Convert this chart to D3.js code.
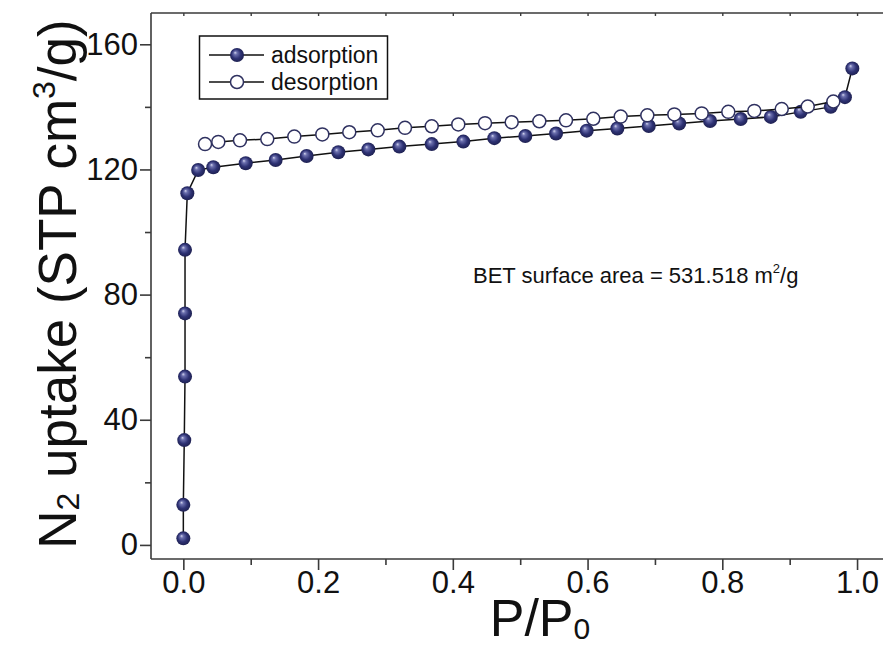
<!DOCTYPE html>
<html>
<head>
<meta charset="utf-8">
<script src="https://cdn.jsdelivr.net/npm/d3@7"></script>
<style>
  html, body { margin: 0; padding: 0; background: #fff; }
  svg { display: block; }
  text { font-family: "Liberation Sans", Arial, sans-serif; fill: #111; }
</style>
</head>
<body>
<svg id="chart" width="883" height="646"></svg>
<script>
// N2 sorption isotherm: relative pressure vs. uptake
const adsorptionP = [0.0, 0.0, 0.0014, 0.0025, 0.0025, 0.0025, 0.0059, 0.022, 0.0445, 0.0926,
  0.137, 0.183, 0.230, 0.2746, 0.3206, 0.3687, 0.4156, 0.4616, 0.5076, 0.5532,
  0.5987, 0.6442, 0.6908, 0.736, 0.7818, 0.8273, 0.872, 0.9164, 0.961, 0.982, 0.993];
const adsorptionV = [2.1, 12.8, 33.5, 53.8, 74.0, 94.3, 112.4, 119.8, 120.7, 122.0,
  123.0, 124.3, 125.5, 126.4, 127.3, 128.1, 128.9, 130.0, 130.7, 131.5,
  132.4, 133.1, 133.9, 134.7, 135.5, 136.1, 136.8, 138.4, 140.0, 143.1, 152.3];

const desorptionP = [0.0322, 0.0519, 0.0841, 0.1246, 0.1647, 0.2063, 0.2463, 0.2885, 0.3290, 0.3687,
  0.4081, 0.4478, 0.4874, 0.5284, 0.568, 0.6085, 0.6492, 0.6887, 0.7288, 0.7694,
  0.8089, 0.8475, 0.8882, 0.9268, 0.9648];
const desorptionV = [128.1, 128.8, 129.3, 129.7, 130.5, 131.2, 131.9, 132.5, 133.3, 133.8,
  134.4, 134.8, 135.1, 135.4, 135.7, 136.2, 136.9, 137.3, 137.6, 137.9,
  138.4, 138.7, 139.3, 140.1, 141.7];

const xMajorTicks = [0.0, 0.2, 0.4, 0.6, 0.8, 1.0];
const xMinorTicks = [0.1, 0.3, 0.5, 0.7, 0.9];
const yMajorTicks = [0, 40, 80, 120, 160];
const yMinorTicks = [20, 60, 100, 140];

const seriesNames = ["adsorption", "desorption"];
const annotation = "BET surface area = 531.518 m";

const svg = d3.select("#chart");
const plotLeft = 151, plotRight = 884, plotTop = 13, plotBottom = 559;

const x = d3.scaleLinear().domain([-0.048, 1.04]).range([plotLeft, plotRight]);
const y = d3.scaleLinear().domain([-4.5, 170]).range([plotBottom, plotTop]);

// Shaded sphere fill for the adsorption markers
const defs = svg.append("defs");
const grad = defs.append("radialGradient")
  .attr("id", "ball").attr("cx", "50%").attr("cy", "50%").attr("r", "55%")
  .attr("fx", "36%").attr("fy", "32%");
grad.append("stop").attr("offset", "0%").attr("stop-color", "#d4d6ee");
grad.append("stop").attr("offset", "22%").attr("stop-color", "#6c70ae");
grad.append("stop").attr("offset", "60%").attr("stop-color", "#2e3274");
grad.append("stop").attr("offset", "100%").attr("stop-color", "#1b1d4a");

const axisColor = "#3a3a3a";

// Frame: bottom, left and top lines
svg.append("line").attr("x1", plotLeft).attr("x2", plotRight).attr("y1", plotBottom).attr("y2", plotBottom)
  .attr("stroke", axisColor).attr("stroke-width", 1.6);
svg.append("line").attr("x1", plotLeft).attr("x2", plotRight).attr("y1", plotTop).attr("y2", plotTop)
  .attr("stroke", axisColor).attr("stroke-width", 1.6);
svg.append("line").attr("x1", plotLeft).attr("x2", plotLeft).attr("y1", plotTop).attr("y2", plotBottom)
  .attr("stroke", axisColor).attr("stroke-width", 1.6);

// Bottom axis
const xAxis = d3.axisBottom(x).tickValues(xMajorTicks).tickFormat(d3.format(".1f"))
  .tickSize(11).tickPadding(1);
const gx = svg.append("g").attr("transform", `translate(0,${plotBottom})`).call(xAxis);
gx.select(".domain").remove();
gx.selectAll(".tick line").attr("stroke", axisColor).attr("stroke-width", 1.6);
gx.selectAll(".tick text").attr("font-size", 31).attr("fill", "#111")
  .attr("font-family", "'Liberation Sans', Arial, sans-serif");

const gxm = svg.append("g").attr("transform", `translate(0,${plotBottom})`)
  .call(d3.axisBottom(x).tickValues(xMinorTicks).tickSize(6).tickFormat(""));
gxm.select(".domain").remove();
gxm.selectAll(".tick line").attr("stroke", axisColor).attr("stroke-width", 1.6);

// Top axis: short ticks only
const gxt = svg.append("g").attr("transform", `translate(0,${plotTop})`)
  .call(d3.axisBottom(x).tickValues(xMajorTicks.concat(xMinorTicks)).tickSize(3).tickFormat(""));
gxt.select(".domain").remove();
gxt.selectAll(".tick line").attr("stroke", axisColor).attr("stroke-width", 1.4);

// Left axis
const yAxis = d3.axisLeft(y).tickValues(yMajorTicks).tickFormat(d3.format("d"))
  .tickSize(11).tickPadding(2);
const gy = svg.append("g").attr("transform", `translate(${plotLeft},0)`).call(yAxis);
gy.select(".domain").remove();
gy.selectAll(".tick line").attr("stroke", axisColor).attr("stroke-width", 1.6);
gy.selectAll(".tick text").attr("font-size", 31).attr("fill", "#111")
  .attr("font-family", "'Liberation Sans', Arial, sans-serif");

const gym = svg.append("g").attr("transform", `translate(${plotLeft},0)`)
  .call(d3.axisLeft(y).tickValues(yMinorTicks).tickSize(6).tickFormat(""));
gym.select(".domain").remove();
gym.selectAll(".tick line").attr("stroke", axisColor).attr("stroke-width", 1.6);

// Axis titles
const xt = svg.append("text").attr("x", 540).attr("y", 636)
  .attr("text-anchor", "middle").attr("font-size", 52);
xt.append("tspan").text("P/P");
xt.append("tspan").attr("font-size", 30).attr("dy", 3).text("0");

const yt = svg.append("text")
  .attr("transform", "translate(76,284) rotate(-90)")
  .attr("text-anchor", "middle").attr("font-size", 53);
yt.append("tspan").text("N");
yt.append("tspan").attr("font-size", 32).attr("dy", 3).text("2");
yt.append("tspan").attr("dy", -3).text(" uptake (STP cm");
yt.append("tspan").attr("font-size", 32).attr("dy", -21).text("3");
yt.append("tspan").attr("dy", 21).text("/g)");

// Series
const ads = adsorptionP.map((p, i) => ({ p, v: adsorptionV[i] }));
const des = desorptionP.map((p, i) => ({ p, v: desorptionV[i] }));
const line = d3.line().x(d => x(d.p)).y(d => y(d.v));

svg.append("path").datum(ads).attr("d", line)
  .attr("fill", "none").attr("stroke", "#111").attr("stroke-width", 1.5);
svg.append("g").selectAll("circle").data(ads).join("circle")
  .attr("cx", d => x(d.p)).attr("cy", d => y(d.v)).attr("r", 7)
  .attr("fill", "url(#ball)");

svg.append("path").datum(des).attr("d", line)
  .attr("fill", "none").attr("stroke", "#111").attr("stroke-width", 1.5);
svg.append("g").selectAll("circle").data(des).join("circle")
  .attr("cx", d => x(d.p)).attr("cy", d => y(d.v)).attr("r", 6.5)
  .attr("fill", "#fff").attr("stroke", "#2f3160").attr("stroke-width", 1.5);

// Legend
const lg = svg.append("g");
lg.append("rect").attr("x", 199.5).attr("y", 36).attr("width", 188).attr("height", 63)
  .attr("fill", "#fff").attr("stroke", "#111").attr("stroke-width", 1.5);
const rows = [55, 82];
seriesNames.forEach((name, i) => {
  const ry = rows[i];
  lg.append("line").attr("x1", 209).attr("x2", 264).attr("y1", ry).attr("y2", ry)
    .attr("stroke", "#111").attr("stroke-width", 1.5);
  if (i === 0) {
    lg.append("circle").attr("cx", 237).attr("cy", ry).attr("r", 7).attr("fill", "url(#ball)");
  } else {
    lg.append("circle").attr("cx", 237).attr("cy", ry).attr("r", 6.5)
      .attr("fill", "#fff").attr("stroke", "#2f3160").attr("stroke-width", 1.5);
  }
  lg.append("text").attr("x", 271).attr("y", ry + 8).attr("font-size", 23).text(name);
});

// BET annotation
const at = svg.append("text").attr("x", 473).attr("y", 283).attr("font-size", 22);
at.append("tspan").text(annotation);
at.append("tspan").attr("font-size", 13).attr("dx", 0).attr("dy", -10).text("2");
at.append("tspan").attr("dy", 10).text("/g");
</script>
</body>
</html>
